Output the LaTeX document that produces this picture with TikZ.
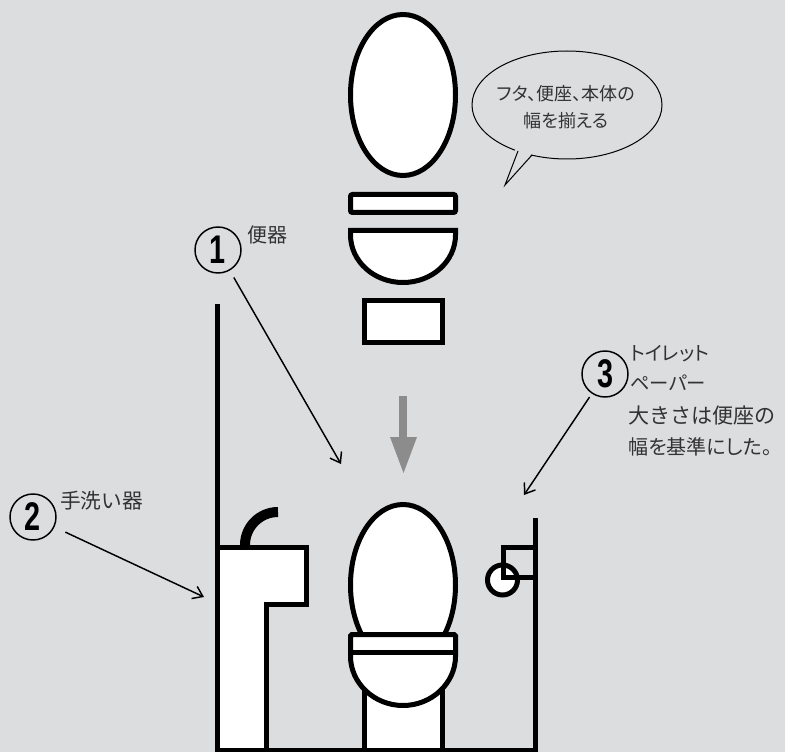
\documentclass[tikz,border=0pt]{standalone}
\usepackage{fontspec}
\usepackage{graphicx}
\usepackage{tikz}
\usetikzlibrary{arrows.meta}
\setmainfont{Noto Sans CJK JP}
\newfontfamily\pfont{Noto Sans CJK JP}[RawFeature=+palt]
\newfontfamily\numfont{Liberation Sans}
\definecolor{wallgray}{RGB}{220,221,223}
\definecolor{arrowgray}{RGB}{140,140,141}
\definecolor{textgray}{RGB}{50,50,50}

\begin{document}
\begin{tikzpicture}[x=0.75pt,y=-0.75pt]
\tikzset{
	solid part/.style = {draw = black, line width = 3.75pt, fill = white},
	bold line/.style = {draw = black, line width = 3.75pt},
	num node/.style = {circle, draw, line width = 1.1pt, inner sep = 0, minimum size = 34.5pt,
		font = \numfont\bfseries\fontsize{30}{30}\selectfont},
	label node/.style = {text = textgray, inner sep = 0, anchor = west, align = left},
	callout/.style = {draw = black, line width = 1.1pt, -{Straight Barb[length=7pt,width=10pt]}}
}
\useasboundingbox (0,0) rectangle (785,752);
\fill[wallgray] (0,0) rectangle (785,752);

% parts, pulled apart
\draw[solid part] (403,95) ellipse [x radius=52.5, y radius=80.5];
\draw[solid part, rounded corners=1.5pt] (350.5,194.5) rectangle (455.5,212.5);
\draw[solid part] (350.5,230.5) -- (455.5,230.5) -- (455.5,235)
	arc [start angle=0, end angle=180, x radius=52.5, y radius=47.5] -- cycle;
\draw[solid part] (364.5,300.5) rectangle (442.5,342.5);

\fill[arrowgray] (399.3,396) rectangle (406.7,438);
\fill[arrowgray] (390,437) -- (417,437) -- (403.5,473) -- cycle;

% speech bubble
\draw[line width=0.75pt] (567,105) ellipse [x radius=95, y radius=54];
\fill[wallgray] (516,147) -- (534,151) -- (505,185) -- cycle;
\draw[line width=0.75pt, line join=miter] (518,151) -- (505,185) -- (532,155);
\node(bubble)[text = textgray, align = center, font = \pfont\fontsize{13.5}{20}\selectfont] at (566,107)
	{フタ、便座、本体の\\幅を揃える};

% walls and floor
\draw[bold line] (217.5,304) -- (217.5,750) -- (535,750) -- (535,518);

% wash basin
\draw[line width=7.5pt] (245,549) -- (245,545) arc [start angle=180, end angle=270, radius=33];
\draw[solid part, line join=miter] (217.5,547.5) -- (306.5,547.5) -- (306.5,604.5)
	-- (266.5,604.5) -- (266.5,750) -- (217.5,750) -- cycle;

% toilet
\draw[solid part] (364.5,680) rectangle (442.5,750);
\draw[solid part] (403,585) ellipse [x radius=52.5, y radius=80.5];
\draw[solid part, rounded corners=1pt] (350.5,634.5) -- (455.5,634.5) -- (455.5,655)
	arc [start angle=0, end angle=180, x radius=52.5, y radius=50.5] -- cycle;
\draw[bold line] (350.5,652.5) -- (455.5,652.5);

% paper holder
\draw[solid part] (502.5,580) circle [radius=15];
\draw[bold line, line join=miter] (535,547.5) -- (503.5,547.5) -- (503.5,577) -- (535,577);

% callouts
\node(c1)[num node] at (218,250) {\scalebox{0.72}[1]{1}};
\node(c2)[num node] at (33,517) {\scalebox{0.72}[1]{2}};
\node(c3)[num node] at (605,374) {\scalebox{0.72}[1]{3}};

\node(l1)[label node, font = \fontsize{15}{15}\selectfont] at (247,235) {便器};
\node(l2)[label node, font = \fontsize{15.5}{15.5}\selectfont] at (60,501) {手洗い器};
\node(l3)[label node, font = \pfont\fontsize{14.5}{22.5}\selectfont] at (630,368) {トイレット\\ペーパー};
\node(note)[label node, font = \fontsize{15.8}{23}\selectfont] at (628,431)
	{大きさは便座の\\{\pfont\fontsize{15}{23}\selectfont 幅を基準にした。}};

\coordinate (bowl tip) at (341,464);
\coordinate (sink tip) at (204,597);
\coordinate (paper tip) at (524,495);

\draw[callout, shorten <=6pt] (c1) -- (bowl tip);
\draw[callout, shorten <=9pt] (c2) -- (sink tip);
\draw[callout, shorten <=3pt] (c3) -- (paper tip);
\end{tikzpicture}
\end{document}
